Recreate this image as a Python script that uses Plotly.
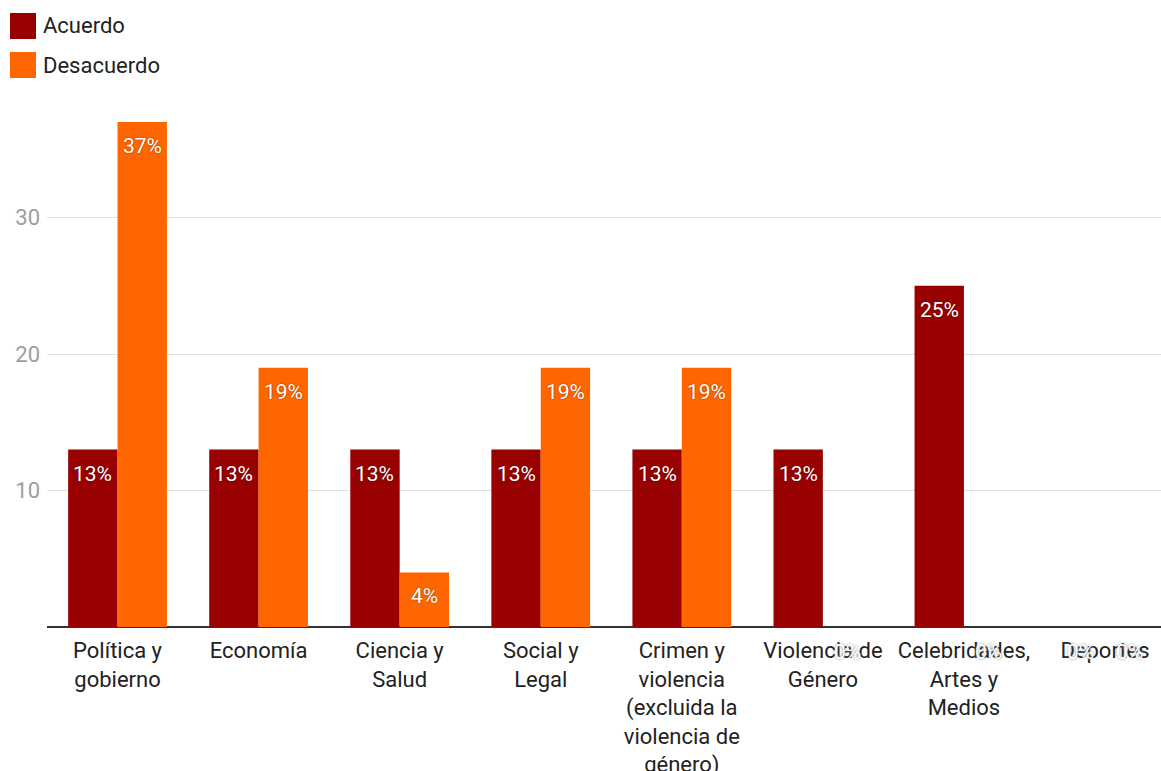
import plotly.graph_objects as go

categories = ["Política y<br>gobierno", "Economía", "Ciencia y<br>Salud", "Social y<br>Legal",
              "Crimen y<br>violencia<br>(excluida la<br>violencia de<br>género)",
              "Violencia de<br>Género", "Celebridades,<br>Artes y<br>Medios", "Deportes"]
acuerdo = [13, 13, 13, 13, 13, 13, 25, 0]
desacuerdo = [37, 19, 4, 19, 19, 0, 0, 0]
series_names = ["Acuerdo", "Desacuerdo"]
colors = ["#990000", "#ff6600"]
y_ticks = [10, 20, 30]

FONT = "Roboto, Arial, sans-serif"

fig = go.Figure()
for name, vals, col in zip(series_names, [acuerdo, desacuerdo], colors):
    fig.add_trace(go.Bar(
        x=list(range(len(categories))), y=vals, name=name, marker_color=col,
        marker_line_width=0, showlegend=False, hoverinfo="y",
    ))

# value labels (near bar tops, ghosted for zero values)
for i, vals in enumerate([acuerdo, desacuerdo]):
    for j, v in enumerate(vals):
        xs = -24.7 if i == 0 else 24.7
        if v > 0:
            fig.add_annotation(x=j, y=v, xref="x", yref="y", text=f"{v}%",
                               xshift=xs, yshift=-24, yanchor="middle",
                               showarrow=False,
                               font=dict(color="white", size=21, family=FONT,
                                         shadow="0px 0px 2px rgba(0,0,0,0.45)"))
        else:
            fig.add_annotation(x=j, y=0, xref="x", yref="y", text=f"{v}%",
                               xshift=xs, yshift=-25, yanchor="middle",
                               showarrow=False,
                               font=dict(color="white", size=21, family=FONT,
                                         shadow="0px 0px 3px #888"))

# legend drawn manually
for k, (name, col) in enumerate(zip(series_names, colors)):
    y0 = 13 + k * 39
    fig.add_shape(type="rect", xref="paper", yref="paper",
                  x0=-37 / 1114, x1=-11 / 1114,
                  y0=1 + (81 - y0 - 26) / 546, y1=1 + (81 - y0) / 546,
                  fillcolor=col, line=dict(width=0))
    fig.add_annotation(xref="paper", yref="paper", x=-6 / 1114, y=1 + (81 - y0 - 13) / 546,
                       text=name, showarrow=False, xanchor="left", yanchor="middle",
                       font=dict(size=22, color="#222222", family=FONT))

fig.update_layout(
    width=1161, height=771,
    margin=dict(l=47, r=0, t=81, b=144),
    paper_bgcolor="white", plot_bgcolor="white",
    barmode="group", bargap=0.3, bargroupgap=0,
    font=dict(family=FONT),
    showlegend=False,
)
fig.update_xaxes(
    tickmode="array", tickvals=list(range(len(categories))), ticktext=categories,
    range=[-0.5, 7.397], tickfont=dict(size=22, color="#222222", family=FONT),
    showgrid=False, ticks="", showline=False, zeroline=False,
    ticklabelstandoff=8, automargin=False,
)
fig.update_yaxes(
    range=[0, 40], tickvals=y_ticks, ticktext=[str(t) for t in y_ticks],
    tickfont=dict(size=22, color="#9e9e9e", family=FONT),
    showgrid=True, gridcolor="#e0e0e0", gridwidth=1,
    zeroline=True, zerolinecolor="#333333", zerolinewidth=2,
    ticks="", ticklen=0, showline=False, ticklabelstandoff=6, automargin=False,
)

fig.write_html("out.html")
